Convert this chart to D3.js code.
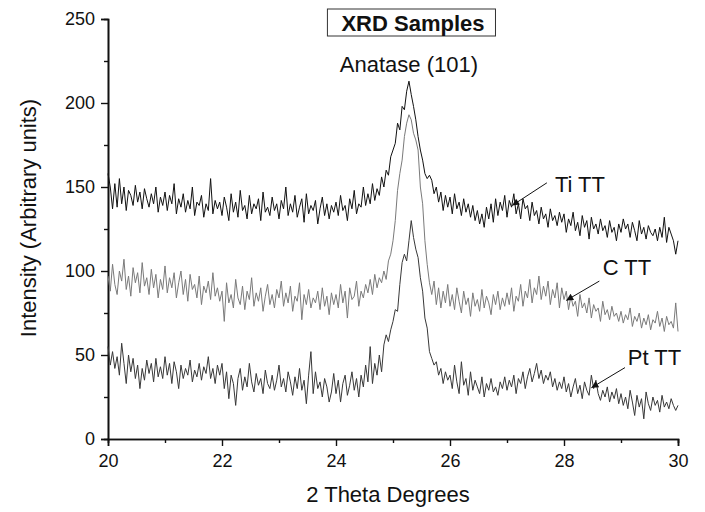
<!DOCTYPE html>
<html>
<head>
<meta charset="utf-8">
<script src="https://cdn.jsdelivr.net/npm/d3@7"></script>
<style>
  body { margin: 0; background: #fff; }
  svg text { font-family: 'Liberation Sans', Arial, sans-serif; fill: #111; }
</style>
</head>
<body>
<svg id="chart"></svg>
<script>
// tick labels
const xTicks = [20, 22, 24, 26, 28, 30];
const xMinorTicks = [21, 23, 25, 27, 29];
const yTicks = [0, 50, 100, 150, 200, 250];
const yMinorTicks = [25, 75, 125, 175, 225];

const seriesNames = ['Ti TT', 'C TT', 'Pt TT'];
const scanStart = 20;
const scanStep = 0.04;

// intensities, one row per degree (25 steps of 0.04)
const tiTT = [
  158,150,137,152,138,155,140,150,136,148,145,139,151,141,147,137,149,143,138,146,140,150,135,144,139,
  147,136,145,140,152,134,143,138,146,135,142,137,150,133,141,139,145,132,140,136,155,134,142,137,141,
  133,144,138,130,146,135,141,132,148,136,139,131,145,134,140,137,143,130,147,135,138,133,144,136,140,
  131,142,137,150,133,140,135,145,132,138,143,129,146,134,139,136,142,128,137,144,133,140,131,139,135,
  141,133,145,136,139,130,143,137,148,134,140,138,150,139,146,140,152,142,149,145,156,150,160,157,168,
  172,176,188,184,198,196,207,213,205,198,190,180,172,166,158,155,157,154,146,150,141,147,136,145,138,
  144,134,146,137,141,133,143,135,140,132,139,130,136,128,134,126,138,131,140,129,143,133,141,136,145,
  132,142,138,146,134,140,131,143,137,139,130,141,133,136,128,138,131,134,126,137,130,133,127,135,129,
  134,123,131,127,135,124,129,121,133,126,130,119,132,125,128,122,131,124,127,120,130,123,126,118,128,
  123,131,125,128,120,129,124,118,130,122,126,119,127,123,121,125,118,126,120,132,117,126,122,118,110,
  118
];

const cTT = [
  97,88,104,92,86,100,94,107,89,97,85,102,93,99,87,105,91,96,86,101,90,98,84,95,89,
  103,87,96,90,99,84,93,100,86,95,82,98,89,92,84,97,80,91,87,94,83,99,85,90,82,
  88,70,93,81,86,78,95,84,80,91,77,88,83,96,79,87,82,90,76,85,92,80,86,78,89,
  84,94,79,87,81,91,76,85,82,93,71,86,80,89,78,84,81,88,77,90,79,85,74,87,80,
  86,78,92,81,88,72,90,83,85,94,79,88,84,92,87,95,86,98,90,96,93,100,95,106,110,
  118,130,148,158,166,180,188,193,190,182,178,172,150,140,118,104,93,86,94,80,90,78,88,81,92,
  79,86,77,90,82,75,88,80,84,73,87,79,83,76,89,78,85,81,74,86,80,88,77,84,79,
  87,80,90,76,85,82,92,79,88,84,95,81,90,86,97,83,91,85,94,80,89,84,93,78,90,
  83,88,77,85,79,82,73,86,78,81,75,84,72,80,76,78,70,82,74,77,71,79,73,75,70,
  76,69,74,71,78,67,73,70,75,66,72,68,74,65,71,69,76,67,72,64,73,68,70,66,81,
  64
];

const ptTT = [
  55,44,52,42,49,38,57,45,33,50,40,48,36,44,30,42,35,47,39,45,34,48,37,43,36,
  49,38,45,33,46,40,30,44,36,42,38,47,34,41,37,45,35,43,39,49,36,42,33,44,38,
  45,30,40,24,38,33,20,36,42,29,37,31,45,34,28,39,32,36,27,41,33,30,38,29,35,
  44,31,36,28,40,34,26,37,30,42,29,35,21,38,52,27,40,30,34,25,36,31,22,28,39,
  27,35,22,33,38,26,32,40,29,36,25,38,31,44,34,55,33,45,38,50,40,56,62,58,65,
  70,77,76,92,105,110,106,118,130,120,113,108,96,88,72,66,52,48,44,46,38,42,33,40,35,
  38,30,44,34,27,46,32,36,26,40,29,35,31,27,37,25,33,29,36,28,31,26,34,30,37,
  29,35,31,38,27,36,33,40,30,37,42,34,39,45,36,41,33,38,35,40,31,36,29,34,30,
  37,28,33,25,31,36,27,32,24,34,29,26,38,30,35,27,23,29,25,31,22,28,24,30,21,
  27,20,25,18,29,22,14,26,19,24,12,28,21,17,25,20,23,16,26,19,22,18,24,20,17,
  20
];

class XrdChart {

  constructor(_config) {
    this.config = {
      parentElement: _config.parentElement,
      containerWidth: _config.containerWidth || 705,
      containerHeight: _config.containerHeight || 512,
      margin: _config.margin || {top: 19, right: 27, bottom: 73, left: 108}
    }
    this.initVis();
  }

  initVis() {
    let vis = this;
    vis.width = vis.config.containerWidth - vis.config.margin.left - vis.config.margin.right;
    vis.height = vis.config.containerHeight - vis.config.margin.top - vis.config.margin.bottom;

    vis.colors = ['#111111', '#7a7a7a', '#383838'];

    vis.xScale = d3.scaleLinear()
      .domain([xTicks[0], xTicks[xTicks.length - 1]])
      .range([0, vis.width]);

    vis.yScale = d3.scaleLinear()
      .domain([yTicks[0], yTicks[yTicks.length - 1]])
      .range([vis.height, 0]);

    vis.svg = d3.select(vis.config.parentElement)
      .attr('width', vis.config.containerWidth)
      .attr('height', vis.config.containerHeight);

    vis.svg.append('defs').append('marker')
        .attr('id', 'arrow')
        .attr('viewBox', '0 0 10 10')
        .attr('refX', 10)
        .attr('refY', 5)
        .attr('markerUnits', 'userSpaceOnUse')
        .attr('markerWidth', 11)
        .attr('markerHeight', 7)
        .attr('orient', 'auto')
      .append('path')
        .attr('d', 'M0,0 L10,5 L0,10 z')
        .attr('fill', '#111');

    vis.chart = vis.svg.append('g')
      .attr('transform', `translate(${vis.config.margin.left},${vis.config.margin.top})`);
  }

  renderVis() {
    let vis = this;

    // axes, major + minor ticks
    const xAxis = d3.axisBottom(vis.xScale).tickValues(xTicks).tickSize(7).tickPadding(8).tickFormat(d3.format('d'));
    const xMinor = d3.axisBottom(vis.xScale).tickValues(xMinorTicks).tickSize(4).tickFormat('');
    const yAxis = d3.axisLeft(vis.yScale).tickValues(yTicks).tickSize(7).tickPadding(6).tickFormat(d3.format('d'));
    const yMinor = d3.axisLeft(vis.yScale).tickValues(yMinorTicks).tickSize(4).tickFormat('');

    const xg = vis.chart.append('g').attr('transform', `translate(0,${vis.height})`);
    xg.call(xAxis);
    xg.append('g').call(xMinor);
    const yg = vis.chart.append('g');
    yg.call(yAxis);
    yg.append('g').call(yMinor);

    vis.chart.selectAll('.domain').attr('stroke', '#111').attr('stroke-width', 1.6);
    vis.chart.selectAll('.tick line').attr('stroke', '#111').attr('stroke-width', 1.4);
    vis.chart.selectAll('.tick text')
      .style('font-size', '18px')
      .style('font-family', "'Liberation Sans', Arial, sans-serif")
      .attr('fill', '#111');

    // traces
    const seriesData = [tiTT, cTT, ptTT];
    const line = d3.line()
      .x((d, i) => vis.xScale(scanStart + i * scanStep))
      .y(d => vis.yScale(d));

    vis.chart.selectAll('.trace')
      .data(seriesData)
      .enter()
      .append('path')
        .attr('class', 'trace')
        .attr('fill', 'none')
        .attr('stroke', (d, i) => vis.colors[i])
        .attr('stroke-width', 1)
        .attr('stroke-linejoin', 'round')
        .attr('d', line);

    // labels with arrows (positions in data units)
    const notes = [
      {text: seriesNames[0], tx: 27.84, ty: 147, x1: 27.70, y1: 152.5, x2: 27.09, y2: 139},
      {text: seriesNames[1], tx: 28.68, ty: 97.5, x1: 28.62, y1: 94, x2: 28.04, y2: 82.5},
      {text: seriesNames[2], tx: 29.12, ty: 44, x1: 29.07, y1: 42.5, x2: 28.48, y2: 30.5}
    ];

    vis.chart.selectAll('.note-line')
      .data(notes)
      .enter()
      .append('line')
        .attr('x1', d => vis.xScale(d.x1))
        .attr('y1', d => vis.yScale(d.y1))
        .attr('x2', d => vis.xScale(d.x2))
        .attr('y2', d => vis.yScale(d.y2))
        .attr('stroke', '#111')
        .attr('stroke-width', 1)
        .attr('marker-end', 'url(#arrow)');

    vis.chart.selectAll('.note-text')
      .data(notes)
      .enter()
      .append('text')
        .attr('x', d => vis.xScale(d.tx))
        .attr('y', d => vis.yScale(d.ty))
        .style('font-size', '22px')
        .text(d => d.text);

    vis.chart.append('text')
      .attr('x', vis.xScale(25.28))
      .attr('y', vis.yScale(218.5))
      .attr('text-anchor', 'middle')
      .style('font-size', '22px')
      .text('Anatase (101)');

    // boxed title
    const box = vis.chart.append('rect');
    const title = vis.chart.append('text')
      .attr('x', vis.xScale(25.35))
      .attr('y', 31 - vis.config.margin.top)
      .attr('text-anchor', 'middle')
      .style('font-size', '22px')
      .style('font-weight', 'bold')
      .text('XRD Samples');
    const bb = title.node().getBBox();
    box
      .attr('x', bb.x - 14)
      .attr('y', bb.y - 2)
      .attr('width', bb.width + 25)
      .attr('height', bb.height + 2)
      .attr('fill', '#fff')
      .attr('stroke', '#333')
      .attr('stroke-width', 1);

    // axis titles
    vis.chart.append('text')
      .attr('x', vis.width / 2 - 5)
      .attr('y', vis.height + 63)
      .attr('text-anchor', 'middle')
      .style('font-size', '22px')
      .text('2 Theta Degrees');

    vis.chart.append('text')
      .attr('transform', `translate(${36 - vis.config.margin.left},${218 - vis.config.margin.top}) rotate(-90)`)
      .attr('text-anchor', 'middle')
      .style('font-size', '22px')
      .text('Intensity (Arbitrary units)');
  }
}

const chart = new XrdChart({parentElement: '#chart'});
chart.renderVis();
</script>
</body>
</html>
